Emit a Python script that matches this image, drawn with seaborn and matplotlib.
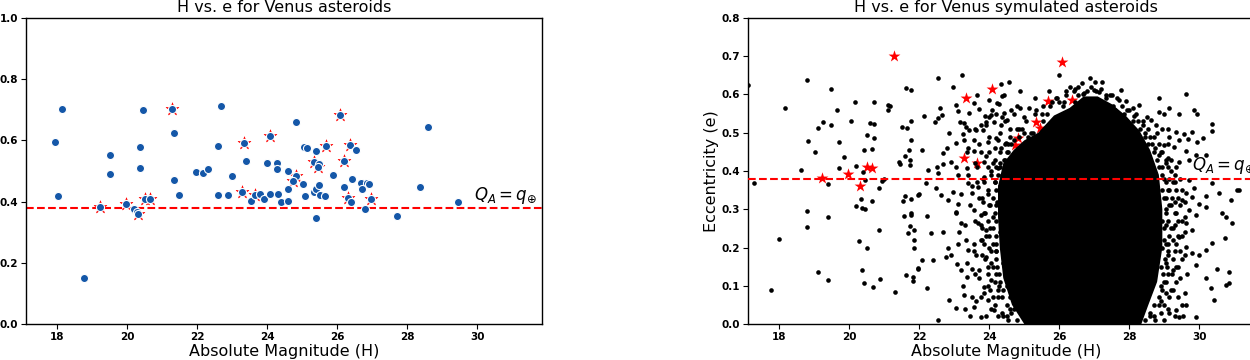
import numpy as np
import pandas as pd
import matplotlib
matplotlib.use('Agg')
import matplotlib.pyplot as plt
import seaborn as sns

# Known Venus asteroids (left panel)
H_venus = [17.92, 18.14, 18.01, 18.77, 19.21, 19.51, 19.50, 19.95, 20.20, 20.28,
           20.30, 20.45, 20.35, 20.35, 20.50, 20.66, 21.27, 21.34, 21.32, 21.48,
           21.97, 22.16, 22.30, 22.60, 22.60, 22.69, 22.87, 22.99, 23.29, 23.34,
           23.39, 23.53, 23.65, 23.79, 23.91, 23.98, 24.08, 24.08, 24.28, 24.28,
           24.31, 24.39, 24.58, 24.59, 24.60, 24.82, 24.83, 24.75, 25.01, 25.06,
           25.13, 25.08, 25.34, 25.39, 25.48, 25.46, 25.35, 25.39, 25.49, 25.39,
           25.51, 25.68, 25.65, 25.89, 26.09, 26.19, 26.20, 26.36, 26.54, 26.30,
           26.39, 26.41, 26.68, 26.84, 26.90, 26.71, 26.80, 26.97, 27.71, 28.38,
           28.60, 29.45]
e_venus = [0.595, 0.703, 0.418, 0.149, 0.383, 0.551, 0.490, 0.393, 0.375, 0.365,
           0.360, 0.699, 0.578, 0.511, 0.410, 0.407, 0.701, 0.623, 0.471, 0.420,
           0.498, 0.495, 0.508, 0.582, 0.423, 0.712, 0.420, 0.485, 0.433, 0.591,
           0.534, 0.402, 0.421, 0.426, 0.407, 0.526, 0.614, 0.425, 0.527, 0.508,
           0.425, 0.400, 0.499, 0.440, 0.402, 0.661, 0.485, 0.467, 0.457, 0.580,
           0.575, 0.419, 0.529, 0.565, 0.523, 0.512, 0.431, 0.440, 0.455, 0.345,
           0.423, 0.583, 0.418, 0.487, 0.684, 0.532, 0.447, 0.586, 0.567, 0.412,
           0.399, 0.475, 0.462, 0.462, 0.458, 0.440, 0.376, 0.410, 0.354, 0.448,
           0.645, 0.400]

# highlighted objects (red stars)
H_star = [19.21, 19.95, 20.30, 20.50, 20.66, 21.27, 23.29, 23.34, 23.65, 24.08,
          24.83, 24.75, 25.34, 25.46, 25.68, 26.09, 26.19, 26.36, 26.30, 26.97]
e_star = [0.383, 0.393, 0.360, 0.410, 0.407, 0.701, 0.433, 0.591, 0.421, 0.614,
          0.485, 0.467, 0.529, 0.512, 0.583, 0.684, 0.532, 0.586, 0.412, 0.410]

e_limit = 0.38   # Q_A = q_earth

# Simulated asteroids (right panel), read off the picture by region
sim_far_left = [(17.11, 0.626), (18.79, 0.639), (18.16, 0.564), (19.48, 0.614), (20.17, 0.580),
                (20.70, 0.580), (21.11, 0.572), (21.17, 0.569), (21.11, 0.559), (21.63, 0.618),
                (21.76, 0.613), (19.65, 0.560), (19.25, 0.528), (19.10, 0.513), (19.48, 0.519),
                (20.04, 0.531), (20.58, 0.525), (20.70, 0.524), (20.49, 0.495), (20.69, 0.487),
                (20.41, 0.456), (20.65, 0.458), (21.51, 0.514), (21.65, 0.512), (21.77, 0.532),
                (21.76, 0.481), (21.71, 0.456), (21.60, 0.438), (21.74, 0.428), (21.74, 0.416),
                (21.41, 0.423), (21.45, 0.417), (18.83, 0.478), (19.02, 0.450), (19.71, 0.475),
                (19.85, 0.437), (19.69, 0.409), (20.20, 0.413), (20.38, 0.397), (18.62, 0.402),
                (17.27, 0.369), (19.40, 0.366), (20.46, 0.376), (20.94, 0.374), (21.00, 0.380),
                (20.86, 0.356), (20.34, 0.327), (20.65, 0.322), (20.20, 0.309), (20.35, 0.304),
                (20.45, 0.301), (18.79, 0.296), (19.38, 0.279), (18.79, 0.254), (17.99, 0.223),
                (20.28, 0.218), (20.50, 0.199), (20.84, 0.246), (21.53, 0.322), (21.60, 0.335),
                (21.76, 0.327), (21.97, 0.337), (21.57, 0.282), (21.76, 0.291), (21.76, 0.285),
                (21.73, 0.257), (21.67, 0.237), (21.84, 0.246), (21.86, 0.220), (21.84, 0.199),
                (21.95, 0.143), (21.63, 0.127), (21.83, 0.122), (21.83, 0.112), (21.31, 0.084),
                (19.11, 0.135), (19.38, 0.116), (20.35, 0.142), (20.43, 0.107), (20.68, 0.097),
                (20.87, 0.117), (17.75, 0.088)]

sim_left = [(22.52, 0.644), (23.22, 0.650), (22.96, 0.619), (23.65, 0.599), (24.33, 0.628),
            (24.57, 0.633), (24.87, 0.608), (24.37, 0.595), (24.43, 0.598), (24.22, 0.578),
            (24.27, 0.574), (24.00, 0.585), (23.57, 0.577), (23.06, 0.573), (23.10, 0.558),
            (22.58, 0.566), (22.64, 0.546), (22.12, 0.545), (22.45, 0.527), (22.52, 0.538),
            (22.84, 0.500), (23.15, 0.527), (23.29, 0.526), (23.33, 0.516), (23.43, 0.551),
            (23.71, 0.561), (23.89, 0.544), (24.05, 0.546), (24.07, 0.559), (24.43, 0.551),
            (24.62, 0.559), (24.89, 0.564), (25.14, 0.566), (25.72, 0.609), (25.90, 0.592),
            (26.00, 0.651), (26.41, 0.609), (26.67, 0.602), (23.24, 0.498), (23.41, 0.507),
            (23.62, 0.507), (23.76, 0.520), (23.81, 0.507), (23.90, 0.529), (24.14, 0.529),
            (24.33, 0.520), (24.52, 0.533), (22.09, 0.455), (22.79, 0.459), (22.67, 0.446),
            (23.05, 0.472), (23.29, 0.481), (23.38, 0.461), (23.55, 0.452), (23.76, 0.450),
            (23.97, 0.477), (24.19, 0.485), (24.33, 0.459), (24.48, 0.472), (22.26, 0.403),
            (22.50, 0.411), (22.67, 0.417), (22.90, 0.424), (23.05, 0.411), (23.36, 0.407),
            (23.86, 0.424), (24.10, 0.420), (24.24, 0.407), (22.00, 0.339), (22.22, 0.283),
            (22.33, 0.237), (22.07, 0.167), (21.97, 0.146), (22.40, 0.167), (22.21, 0.093),
            (22.54, 0.010), (22.86, 0.063), (23.05, 0.041), (23.27, 0.076), (22.19, 0.368),
            (22.48, 0.355), (22.62, 0.337), (22.52, 0.394), (22.81, 0.324), (22.95, 0.346),
            (23.10, 0.315), (23.05, 0.294), (22.67, 0.241), (22.81, 0.198), (22.76, 0.176),
            (22.90, 0.180), (23.14, 0.241), (23.19, 0.263), (23.33, 0.220), (23.38, 0.193),
            (23.08, 0.158), (23.19, 0.141), (23.36, 0.124), (23.52, 0.145), (23.57, 0.045),
            (23.76, 0.019), (23.95, 0.063), (24.14, 0.037), (23.38, 0.368), (23.52, 0.342),
            (23.67, 0.359), (23.81, 0.320), (23.86, 0.385), (23.55, 0.298), (23.76, 0.285),
            (23.67, 0.263), (23.90, 0.246), (23.76, 0.220), (24.00, 0.198), (23.62, 0.180),
            (23.90, 0.176), (23.71, 0.141), (24.05, 0.115), (23.86, 0.097), (24.24, 0.089),
            (23.76, 0.071)]

# the dense band around the black core (estimated)
sim_band = [(23.45, 0.02), (23.62, 0.06), (23.85, 0.08), (23.70, 0.12), (23.95, 0.15),
            (23.55, 0.19), (23.80, 0.22), (24.02, 0.25), (23.60, 0.27), (23.88, 0.29),
            (23.70, 0.33), (24.00, 0.31), (23.50, 0.36), (23.82, 0.38), (24.05, 0.40),
            (23.65, 0.41), (23.90, 0.44), (24.15, 0.46), (23.72, 0.47), (24.00, 0.49),
            (24.30, 0.50), (24.55, 0.47), (24.45, 0.53), (24.70, 0.55), (24.85, 0.51),
            (24.20, 0.55), (23.92, 0.52), (24.12, 0.07), (24.28, 0.10), (24.45, 0.14),
            (24.18, 0.19), (24.30, 0.24), (24.12, 0.28), (24.22, 0.32), (24.32, 0.36),
            (24.20, 0.41), (24.45, 0.43), (24.38, 0.02), (24.58, 0.04), (24.65, 0.09),
            (24.55, 0.17), (24.60, 0.26), (24.62, 0.33), (24.55, 0.39), (24.90, 0.43),
            (25.05, 0.47), (25.25, 0.50), (25.50, 0.55), (25.80, 0.58), (26.00, 0.58),
            (25.35, 0.56), (26.20, 0.61), (26.45, 0.615), (26.65, 0.63), (26.90, 0.62),
            (27.20, 0.615), (27.45, 0.60), (27.70, 0.585), (27.95, 0.56), (28.15, 0.545),
            (28.40, 0.52), (28.60, 0.49), (28.35, 0.48), (28.75, 0.46), (28.90, 0.45),
            (29.05, 0.42), (29.20, 0.40), (29.00, 0.38), (29.30, 0.37), (29.15, 0.35),
            (29.40, 0.33), (29.20, 0.31), (29.35, 0.29), (29.50, 0.27), (29.20, 0.25),
            (29.40, 0.23), (29.10, 0.21), (29.30, 0.19), (29.50, 0.17), (29.05, 0.16),
            (29.25, 0.14), (29.45, 0.12), (29.00, 0.11), (29.20, 0.09), (29.40, 0.07),
            (28.90, 0.06), (29.10, 0.04), (28.70, 0.02), (29.00, 0.01), (29.30, 0.02),
            (28.95, 0.27), (29.05, 0.33), (28.95, 0.20)]

sim_band_left = [(23.90, 0.02), (24.25, 0.02), (24.50, 0.02), (23.30, 0.04), (24.05, 0.04),
                 (24.70, 0.04), (23.50, 0.07), (24.35, 0.07), (24.80, 0.07), (23.25, 0.10),
                 (23.95, 0.10), (24.50, 0.10), (24.75, 0.10), (23.60, 0.13), (24.20, 0.13),
                 (24.60, 0.13), (23.35, 0.16), (24.05, 0.16), (24.40, 0.16), (24.70, 0.16),
                 (23.80, 0.18), (24.50, 0.18), (23.10, 0.21), (23.55, 0.21), (24.20, 0.21),
                 (24.45, 0.21), (23.90, 0.23), (24.60, 0.23), (23.30, 0.26), (23.75, 0.26),
                 (24.40, 0.26), (23.05, 0.29), (24.35, 0.29), (24.70, 0.29), (23.45, 0.31),
                 (24.50, 0.31), (23.20, 0.34), (23.95, 0.34), (24.45, 0.34), (23.65, 0.37),
                 (24.15, 0.37), (24.50, 0.37), (23.10, 0.39), (23.40, 0.39), (24.35, 0.39),
                 (23.60, 0.42), (24.30, 0.42), (24.65, 0.42), (23.35, 0.45), (24.00, 0.45),
                 (24.50, 0.45), (24.80, 0.45), (23.55, 0.48), (24.25, 0.48), (24.70, 0.48),
                 (23.60, 0.51), (24.60, 0.51), (24.95, 0.51), (25.10, 0.49), (24.00, 0.54),
                 (24.35, 0.54), (25.00, 0.54), (25.30, 0.55), (24.80, 0.57), (25.55, 0.57),
                 (25.30, 0.59), (25.95, 0.59), (26.30, 0.62), (26.55, 0.62)]

sim_band_right = [(28.60, 0.02), (29.55, 0.02), (28.85, 0.05), (29.50, 0.05), (29.05, 0.08),
                  (29.60, 0.08), (28.90, 0.10), (29.10, 0.13), (29.65, 0.13), (28.90, 0.15),
                  (29.35, 0.15), (29.10, 0.18), (29.60, 0.18), (29.00, 0.22), (29.25, 0.22),
                  (29.60, 0.24), (29.05, 0.26), (29.30, 0.26), (29.60, 0.28), (29.05, 0.30),
                  (29.30, 0.32), (29.60, 0.32), (28.95, 0.35), (29.50, 0.35), (29.15, 0.38),
                  (29.45, 0.38), (28.85, 0.41), (29.35, 0.41), (29.20, 0.43), (28.65, 0.47),
                  (29.10, 0.47), (28.45, 0.50), (28.80, 0.50), (28.25, 0.53), (27.60, 0.56),
                  (28.00, 0.56)]

# points hugging the edge of the black core
sim_edge_left = [(24.55, 0.01), (24.80, 0.01), (24.35, 0.03), (24.62, 0.03), (24.15, 0.05),
                 (24.50, 0.05), (24.25, 0.07), (24.58, 0.07), (24.02, 0.09), (24.40, 0.09),
                 (24.15, 0.11), (24.32, 0.11), (23.95, 0.13), (24.28, 0.13), (24.10, 0.15),
                 (24.22, 0.15), (23.88, 0.17), (24.18, 0.17), (24.05, 0.19), (24.20, 0.19),
                 (23.85, 0.21), (24.12, 0.21), (24.00, 0.23), (24.18, 0.23), (23.80, 0.25),
                 (24.10, 0.25), (23.95, 0.27), (24.20, 0.27), (23.85, 0.29), (24.15, 0.29),
                 (24.02, 0.31), (24.18, 0.31), (23.78, 0.33), (24.10, 0.33), (23.95, 0.35),
                 (24.20, 0.35), (23.85, 0.37), (24.15, 0.37), (24.05, 0.39), (24.25, 0.39),
                 (23.95, 0.41), (24.30, 0.41), (24.15, 0.43), (24.42, 0.43), (24.30, 0.45),
                 (24.55, 0.45), (24.45, 0.47), (24.62, 0.47), (24.60, 0.49), (24.85, 0.49),
                 (24.78, 0.51), (24.98, 0.50), (25.05, 0.53), (25.20, 0.50), (25.55, 0.53),
                 (25.65, 0.55), (25.75, 0.57), (26.10, 0.57), (26.15, 0.58), (26.45, 0.58),
                 (26.55, 0.60), (26.20, 0.60)]

sim_edge_right = [(28.45, 0.01), (28.75, 0.01), (28.60, 0.03), (28.90, 0.03), (28.70, 0.05),
                  (29.00, 0.05), (28.85, 0.07), (29.15, 0.07), (28.95, 0.09), (29.25, 0.09),
                  (29.05, 0.11), (29.35, 0.11), (28.98, 0.13), (29.22, 0.13), (29.08, 0.15),
                  (29.40, 0.15), (29.02, 0.17), (29.25, 0.17), (29.12, 0.19), (29.45, 0.19),
                  (29.05, 0.21), (29.35, 0.21), (29.15, 0.23), (29.50, 0.23), (29.00, 0.25),
                  (29.25, 0.25), (29.12, 0.27), (29.40, 0.27), (29.05, 0.29), (29.30, 0.29),
                  (29.15, 0.31), (29.45, 0.31), (29.00, 0.33), (29.22, 0.33), (29.10, 0.35),
                  (29.35, 0.35), (29.05, 0.37), (29.25, 0.37), (28.95, 0.39), (29.30, 0.39),
                  (28.95, 0.41), (29.10, 0.41), (28.80, 0.43), (29.05, 0.43), (28.70, 0.45),
                  (28.95, 0.45), (28.55, 0.47), (28.85, 0.47), (28.45, 0.49), (28.70, 0.49),
                  (28.30, 0.51), (28.55, 0.51), (28.10, 0.53), (28.40, 0.53), (27.85, 0.55),
                  (28.20, 0.55), (27.55, 0.57), (27.80, 0.57), (27.35, 0.59), (27.65, 0.59),
                  (27.05, 0.61), (26.80, 0.61)]

sim_right = [(26.88, 0.644), (27.03, 0.633), (27.22, 0.632), (27.00, 0.612), (27.14, 0.607),
             (27.33, 0.599), (27.52, 0.600), (27.76, 0.612), (26.71, 0.605), (28.84, 0.590),
             (29.64, 0.602), (29.86, 0.559), (29.95, 0.548), (30.36, 0.524), (30.36, 0.505),
             (27.90, 0.583), (28.27, 0.572), (28.11, 0.564), (29.14, 0.565), (29.43, 0.548),
             (28.86, 0.555), (29.00, 0.550), (28.52, 0.542), (28.62, 0.533), (28.76, 0.520),
             (28.95, 0.511), (29.12, 0.511), (29.33, 0.503), (29.57, 0.498), (29.81, 0.503),
             (29.14, 0.490), (29.43, 0.481), (29.67, 0.484), (29.95, 0.477), (30.10, 0.487),
             (29.00, 0.468), (29.29, 0.463), (29.62, 0.451), (29.90, 0.442), (30.19, 0.442),
             (28.86, 0.442), (29.12, 0.433), (29.43, 0.424), (29.71, 0.429), (30.38, 0.368),
             (31.14, 0.350), (30.57, 0.342), (30.90, 0.324), (30.19, 0.335), (30.00, 0.315),
             (30.19, 0.307), (29.90, 0.285), (30.67, 0.289), (30.76, 0.280), (30.95, 0.265),
             (30.74, 0.224), (30.38, 0.211), (30.19, 0.193), (30.00, 0.180), (29.90, 0.154),
             (30.52, 0.143), (30.86, 0.137), (30.76, 0.102), (30.19, 0.119), (30.33, 0.093),
             (30.43, 0.064), (29.90, 0.019), (29.62, 0.050), (29.43, 0.019), (29.14, 0.028),
             (29.33, 0.037), (29.71, 0.376), (29.86, 0.355), (29.62, 0.342), (29.81, 0.333),
             (29.52, 0.324), (29.71, 0.298), (29.62, 0.263), (29.81, 0.246), (29.43, 0.228),
             (29.62, 0.202), (29.81, 0.185), (31.09, 0.350), (30.86, 0.107)]

# outline of the region that is solid black (too dense to see single points)
core_H = [25.00, 24.65, 24.40, 24.30, 24.25, 24.25, 24.40, 24.70, 25.00, 25.40,
          25.85, 26.30, 26.70, 27.10, 27.50, 27.90, 28.30, 28.60, 28.85, 28.95,
          28.95, 28.80, 28.55, 28.35]
core_e = [0.000, 0.050, 0.120, 0.200, 0.280, 0.360, 0.420, 0.455, 0.480, 0.500,
          0.545, 0.565, 0.595, 0.595, 0.575, 0.545, 0.505, 0.455, 0.390, 0.300,
          0.200, 0.110, 0.050, 0.000]

venus = pd.DataFrame({'H': H_venus, 'e': e_venus})
stars = pd.DataFrame({'H': H_star, 'e': e_star})
sim = pd.DataFrame(sim_far_left + sim_left + sim_band + sim_band_left + sim_band_right
                   + sim_edge_left + sim_edge_right + sim_right, columns=['H', 'e'])

fig = plt.figure(figsize=(12.5, 3.6), dpi=100)
ax1 = fig.add_axes([0.0208, 0.1, 0.4126, 0.85])
ax2 = fig.add_axes([0.5984, 0.1, 0.4126, 0.85])

tick_font = {'fontsize': 7.5, 'fontweight': 'bold'}

# left panel
sns.scatterplot(data=stars, x='H', y='e', ax=ax1, marker='*', color='red', s=95,
                edgecolor='red', linewidth=0.4, zorder=2)
ax1.axhline(e_limit, color='red', ls='--', lw=1.5, zorder=2.5)
sns.scatterplot(data=venus, x='H', y='e', ax=ax1, color='#1457a8', s=34,
                edgecolor='white', linewidth=0.8, zorder=3)
ax1.text(29.9, 0.387, r'$Q_A = q_{\oplus}$', fontsize=12, va='bottom')
ax1.set_ylim(0, 1.0)
ax1.set_yticks(np.arange(0, 1.01, 0.2))
ax1.set_title('H vs. e for Venus asteroids', fontsize=11.5, pad=4)

# right panel
sns.scatterplot(data=stars, x='H', y='e', ax=ax2, marker='*', color='red', s=80,
                linewidth=0, zorder=1)
ax2.fill(core_H, core_e, color='black', lw=0, zorder=1.5)
ax2.text(29.8, 0.387, r'$Q_A = q_{\oplus}$', fontsize=12, va='bottom', zorder=1.8)
sns.scatterplot(data=sim, x='H', y='e', ax=ax2, color='black', s=11,
                linewidth=0, zorder=2)
ax2.axhline(e_limit, color='red', ls='--', lw=1.5, zorder=3)
ax2.set_ylim(0, 0.8)
ax2.set_yticks(np.arange(0, 0.81, 0.1))
ax2.set_title('H vs. e for Venus symulated asteroids', fontsize=11.5, pad=4)

for ax in (ax1, ax2):
    ax.set_xlim(17.1, 31.85)
    ax.set_xticks(np.arange(18, 31, 2))
    ax.set_xticklabels([str(v) for v in range(18, 31, 2)], **tick_font)
    ax.set_yticklabels([f'{v:.1f}' for v in ax.get_yticks()], **tick_font)
    ax.set_xlabel('Absolute Magnitude (H)', fontsize=11.5, labelpad=2)
    ax.set_ylabel('Eccentricity (e)', fontsize=11.5, labelpad=2)
    ax.tick_params(length=3.5, width=0.8, pad=2)
    for sp in ax.spines.values():
        sp.set_linewidth(1.0)

fig.savefig('out.png', dpi=100)
